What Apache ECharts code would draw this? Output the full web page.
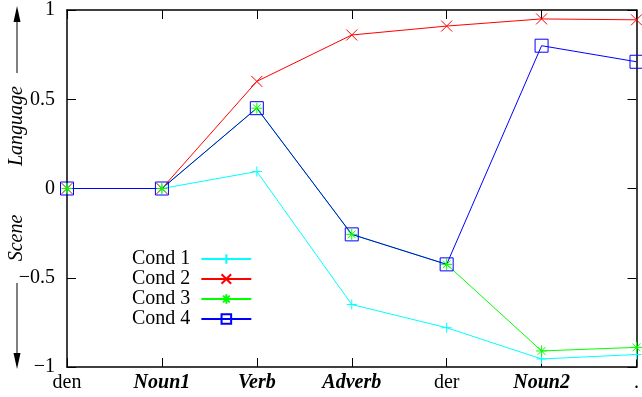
<!DOCTYPE html>
<html>
<head>
<meta charset="utf-8">
<script src="https://cdn.jsdelivr.net/npm/echarts@6/dist/echarts.min.js"></script>
<style>
  html, body { margin: 0; padding: 0; background: #fff; }
  #chart { width: 642px; height: 397px; }
</style>
</head>
<body>
<div id="chart"></div>
<script>
const categories = ['den', 'Noun1', 'Verb', 'Adverb', 'der', 'Noun2', '.'];
const italicCats = ['Noun1', 'Verb', 'Adverb', 'Noun2'];
const cond1 = [0, 0, 0.095, -0.65, -0.78, -0.955, -0.93];
const cond2 = [0, 0, 0.60, 0.86, 0.91, 0.95, 0.945];
const cond3 = [0, 0, 0.45, -0.257, -0.425, -0.91, -0.89];
const cond4 = [0, 0, 0.45, -0.257, -0.425, 0.80, 0.71];
const yTicks = [-1, -0.5, 0, 0.5, 1];

const font = 'Liberation Serif';
const chart = echarts.init(document.getElementById('chart'));

function makeSeries(name, data, color, symbol, size) {
  return {
    name: name,
    type: 'line',
    data: data,
    color: color,
    symbol: symbol,
    symbolSize: size,
    showAllSymbol: true,
    lineStyle: { color: color, width: 1 },
    itemStyle: { color: 'rgba(0,0,0,0)', borderColor: color, borderWidth: 1 },
    emphasis: { disabled: true },
    animation: false
  };
}

const plusPath = 'path://M0,5L10,5M5,0L5,10';
const crossPath = 'path://M0,0L10,10M10,0L0,10';
const starPath = 'path://M0,5L10,5M5,0L5,10M1.5,1.5L8.5,8.5M8.5,1.5L1.5,8.5';
const squarePath = 'path://M0,0L10,0L10,10L0,10Z';

const option = {
  backgroundColor: '#fff',
  textStyle: { fontFamily: font },
  grid: { left: 67, right: 2, top: 9, bottom: 30, containLabel: false },
  legend: {
    orient: 'vertical',
    left: 127,
    top: 244,
    align: 'right',
    itemWidth: 50,
    itemHeight: 12,
    itemGap: 0,
    textStyle: { fontFamily: font, fontSize: 20, lineHeight: 17, color: '#000', padding: [0, 6, 0, 0] },
    data: ['Cond 1', 'Cond 2', 'Cond 3', 'Cond 4']
  },
  xAxis: [{
    type: 'category',
    data: categories,
    boundaryGap: false,
    axisLine: { onZero: false, lineStyle: { color: '#000', width: 1.5 } },
    axisTick: { inside: true, length: 9, alignWithLabel: true, lineStyle: { color: '#000' } },
    axisLabel: {
      interval: 0,
      margin: 6,
      color: '#000',
      fontFamily: font,
      fontSize: 20,
      formatter: function (v) {
        return italicCats.indexOf(v) >= 0 ? '{b|' + v + '}' : '{n|' + v + '}';
      },
      rich: {
        b: { fontFamily: font, fontSize: 20, fontWeight: 'bold', fontStyle: 'italic', color: '#000' },
        n: { fontFamily: font, fontSize: 20, color: '#000' }
      }
    },
    splitLine: { show: false }
  }, {
    type: 'category',
    data: categories,
    boundaryGap: false,
    position: 'top',
    axisLine: { onZero: false, lineStyle: { color: '#000', width: 1.5 } },
    axisTick: { inside: true, length: 9, lineStyle: { color: '#000' } },
    axisLabel: { show: false },
    splitLine: { show: false }
  }],
  yAxis: [{
    type: 'value',
    min: -1,
    max: 1,
    interval: 0.5,
    axisLine: { show: true, onZero: false, lineStyle: { color: '#000', width: 1.5 } },
    axisTick: { show: true, inside: true, length: 9, lineStyle: { color: '#000' } },
    axisLabel: {
      color: '#000',
      fontFamily: font,
      fontSize: 20,
      margin: 12,
      padding: [3, 0, 0, 0],
      formatter: function (v) {
        return yTicks.indexOf(v) >= 0 ? String(v).replace('-', '\u2212') : '';
      }
    },
    splitLine: { show: false }
  }, {
    type: 'value',
    min: -1,
    max: 1,
    interval: 0.5,
    position: 'right',
    axisLine: { show: true, onZero: false, lineStyle: { color: '#000', width: 1.5 } },
    axisTick: { show: true, inside: true, length: 9, lineStyle: { color: '#000' } },
    axisLabel: { show: false },
    splitLine: { show: false }
  }],
  series: [
    makeSeries('Cond 1', cond1, '#00ffff', plusPath, 10),
    makeSeries('Cond 2', cond2, '#ff0000', crossPath, 11),
    makeSeries('Cond 3', cond3, '#00ff00', starPath, 11),
    makeSeries('Cond 4', cond4, '#0000ff', squarePath, 13)
  ],
  graphic: [
    {
      type: 'text', x: 17, y: 126, rotation: Math.PI / 2,
      style: { text: 'Language', font: 'italic 20px "Liberation Serif"', fill: '#000', align: 'center', verticalAlign: 'middle' }
    },
    {
      type: 'text', x: 17, y: 238, rotation: Math.PI / 2,
      style: { text: 'Scene', font: 'italic 20px "Liberation Serif"', fill: '#000', align: 'center', verticalAlign: 'middle' }
    },
    { type: 'line', shape: { x1: 17, y1: 22, x2: 17, y2: 73 }, style: { stroke: '#000', lineWidth: 1 } },
    { type: 'polygon', shape: { points: [[13.5, 22], [20.5, 22], [17, 6]] }, style: { fill: '#000' } },
    { type: 'line', shape: { x1: 17, y1: 283, x2: 17, y2: 353 }, style: { stroke: '#000', lineWidth: 1 } },
    { type: 'polygon', shape: { points: [[13.5, 353], [20.5, 353], [17, 369]] }, style: { fill: '#000' } }
  ]
};

chart.setOption(option);
</script>
</body>
</html>
